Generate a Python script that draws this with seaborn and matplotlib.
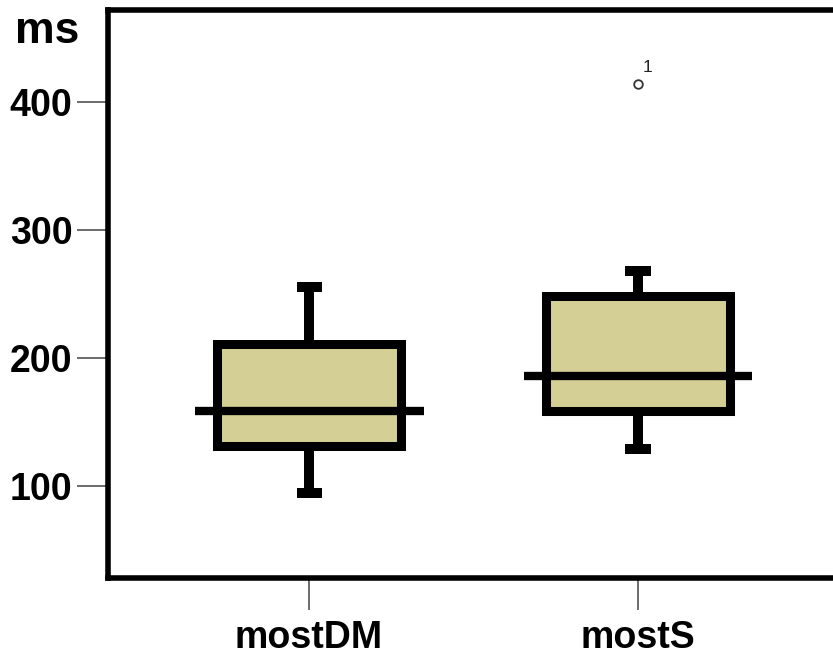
import matplotlib
matplotlib.use("Agg")
import matplotlib.pyplot as plt
import seaborn as sns

# ---- data ----
categories = ["mostDM", "mostS"]
whisker_low = [94.1, 128.6]
q1 = [131.3, 158.7]
median = [158.3, 185.7]
q3 = [211.2, 248.4]
whisker_high = [255.4, 268.4]
outliers = [[], [414.2]]
outlier_labels = [[], ["1"]]
y_ticks = [100, 200, 300, 400]
y_label = "ms"

sns.set_style("white")
plt.rcParams["font.family"] = ["Liberation Sans", "DejaVu Sans"]
plt.rcParams["text.color"] = "black"
plt.rcParams["xtick.color"] = "black"
plt.rcParams["ytick.color"] = "black"

fig = plt.figure(figsize=(8.33, 6.55), dpi=100)
W, H = 833, 655
left_px, right_px, top_px, bottom_px = 108, 840, 10, 578
ax = fig.add_axes([left_px / W, (H - bottom_px) / H,
                   (right_px - left_px) / W, (bottom_px - top_px) / H])

positions = list(range(len(categories)))
stats = []
for i, c in enumerate(categories):
    stats.append(dict(label=c, whislo=whisker_low[i], q1=q1[i], med=median[i],
                      q3=q3[i], whishi=whisker_high[i], fliers=outliers[i]))

fill = "#D4CF94"
ax.bxp(stats, positions=positions, widths=0.557, capwidths=0.076,
       patch_artist=True, showfliers=True,
       boxprops=dict(facecolor=fill, edgecolor="black", linewidth=6.5,
                     joinstyle="miter"),
       whiskerprops=dict(color="black", linewidth=7.2, solid_capstyle="butt"),
       capprops=dict(color="black", linewidth=7.2, solid_capstyle="butt"),
       medianprops=dict(visible=False),
       flierprops=dict(marker="o", markersize=6.2, markerfacecolor="white",
                       markeredgecolor="#333333", markeredgewidth=1.3))

# long median lines extending beyond the boxes
ax.hlines(median, [p - 0.348 for p in positions], [p + 0.348 for p in positions],
          colors="black", linewidth=6.0, zorder=5, capstyle="butt")

# outlier case labels
for i, (vals, labs) in enumerate(zip(outliers, outlier_labels)):
    for v, lab in zip(vals, labs):
        ax.annotate(lab, (positions[i], v), xytext=(3.5, 6.5),
                    textcoords="offset points", ha="left", va="bottom",
                    fontsize=12.5, color="#222222")

ax.set_xlim(-0.611, 1.614)
ax.set_ylim(27.6, 472.4)
ax.set_yticks(y_ticks)
ax.set_yticklabels([str(t) for t in y_ticks])
ax.set_xticks(positions)
ax.set_xticklabels(categories)

for s in ["left", "top", "bottom", "right"]:
    ax.spines[s].set_linewidth(4.0)
    ax.spines[s].set_color("black")

ax.tick_params(axis="y", left=True, direction="out", length=22, width=1.1,
               color="#444444", labelcolor="black", pad=3.6, labelsize=27)
ax.tick_params(axis="x", bottom=True, direction="out", length=23, width=1.1,
               color="#444444", labelcolor="black", pad=7, labelsize=27)
for lab in ax.get_xticklabels() + ax.get_yticklabels():
    lab.set_fontweight("bold")
ax.set_xlabel("")
ax.set_ylabel("")

fig.text(15 / W, (H - 43) / H, y_label, fontsize=32, fontweight="bold",
         color="black", ha="left", va="baseline")

fig.savefig("out.png", dpi=100)
